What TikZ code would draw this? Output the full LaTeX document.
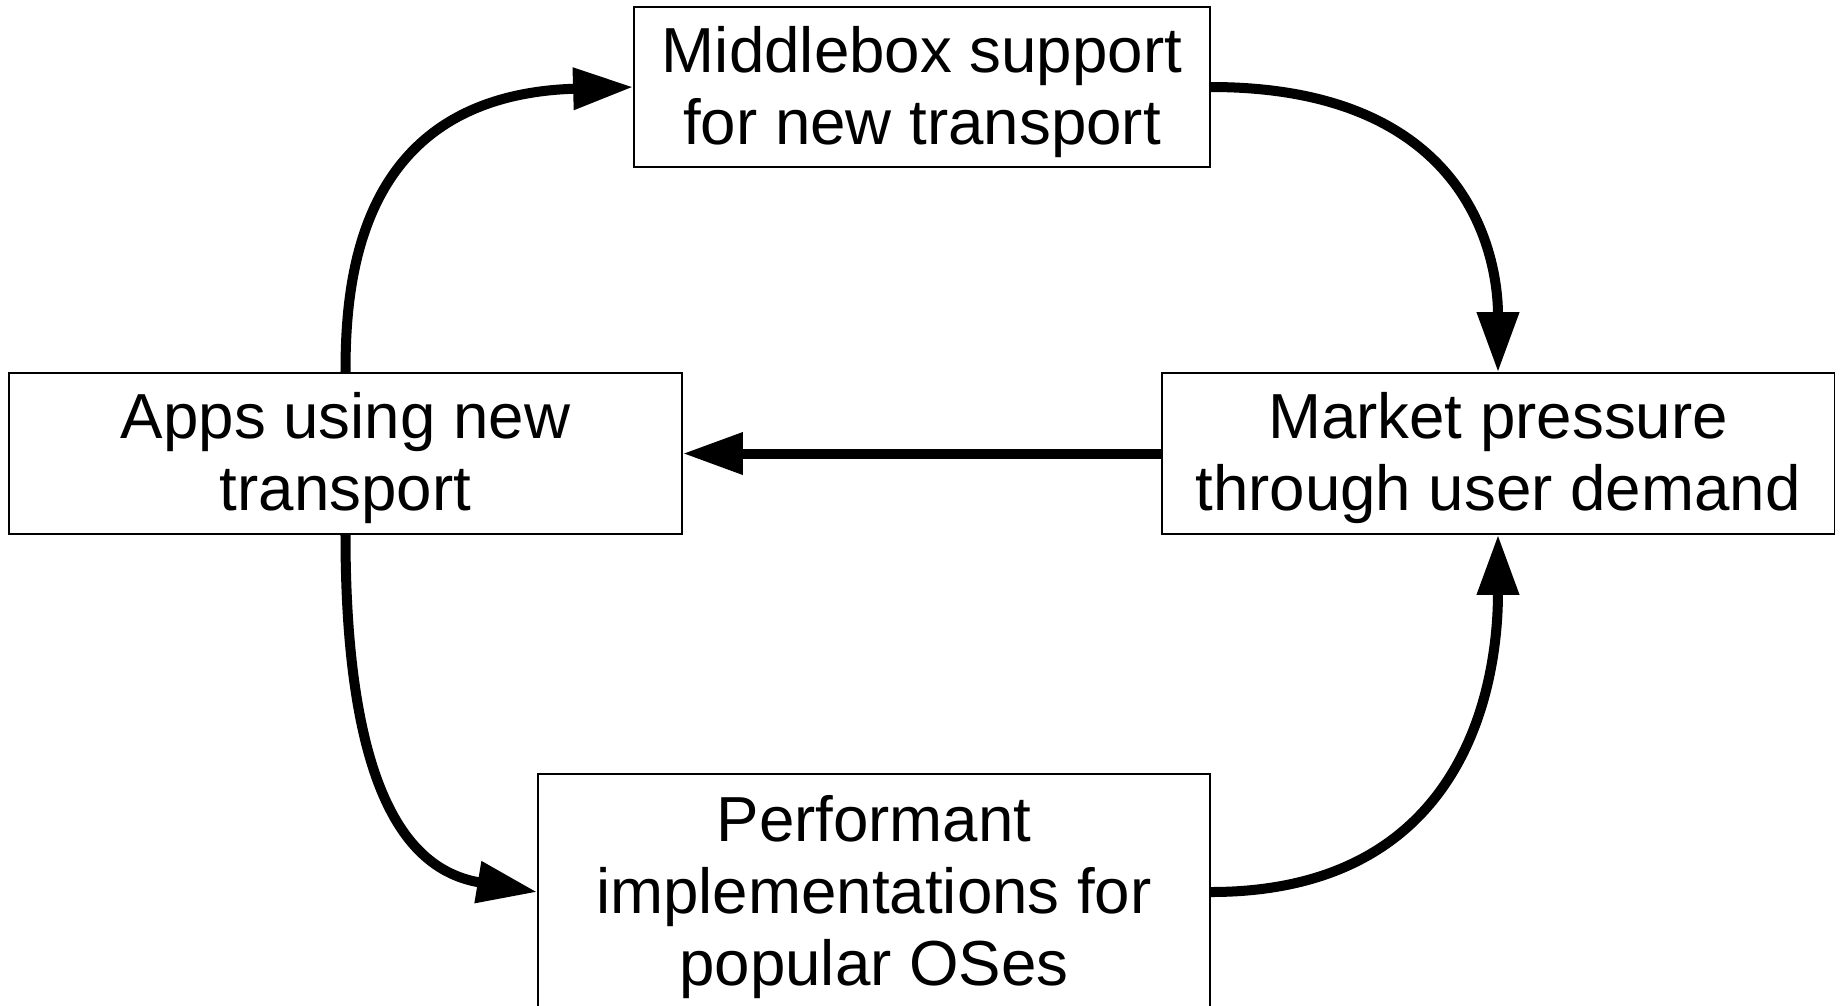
\documentclass[tikz,border=0pt]{standalone}
\usepackage{fontspec}
\setmainfont{Liberation Sans}
\usepackage{tikz}
\usetikzlibrary{arrows.meta}
\tikzset{>={Triangle[length=0.6cm,width=0.4cm]}}
\tikzset{box/.style={draw, line width=0.4pt, align=center, inner sep=0pt, text depth=1pt,
    font=\fontsize{18.1pt}{20.4pt}\selectfont}}
\tikzset{flow/.style={->, line width=0.1cm}}

\begin{document}
\begin{tikzpicture}[x=0.01cm, y=-0.01cm]
      \useasboundingbox (0,0) rectangle (1841,1005);
      \node (mbox) at (922,87) [box, minimum width=5.76cm, minimum height=1.6cm] {Middlebox support\\for new transport};
      \node (apps) at (345.5,453.5) [box, minimum width=6.73cm, minimum height=1.61cm] {Apps using new\\transport};
      \node (market) at (1498,453.5) [box, minimum width=6.72cm, minimum height=1.61cm] {Market pressure\\through user demand};
      \node (perf) at (874,892) [box, minimum width=6.72cm, minimum height=2.36cm] {Performant\\implementations for\\popular OSes};
      \draw[flow] (apps.north) .. controls +(0,-93) and +(-275,8) .. (mbox.west);
      \draw[flow] (mbox.east) .. controls +(275,0) and +(0,-93) .. (market.north);
      \draw[flow] (market.west) -- (apps.east);
      \draw[flow] (apps.south) .. controls +(0,275) and +(-120,-20) .. (perf.west);
      \draw[flow] (perf.east) .. controls +(275,0) and +(0,115) .. (market.south);
\end{tikzpicture}
\end{document}
